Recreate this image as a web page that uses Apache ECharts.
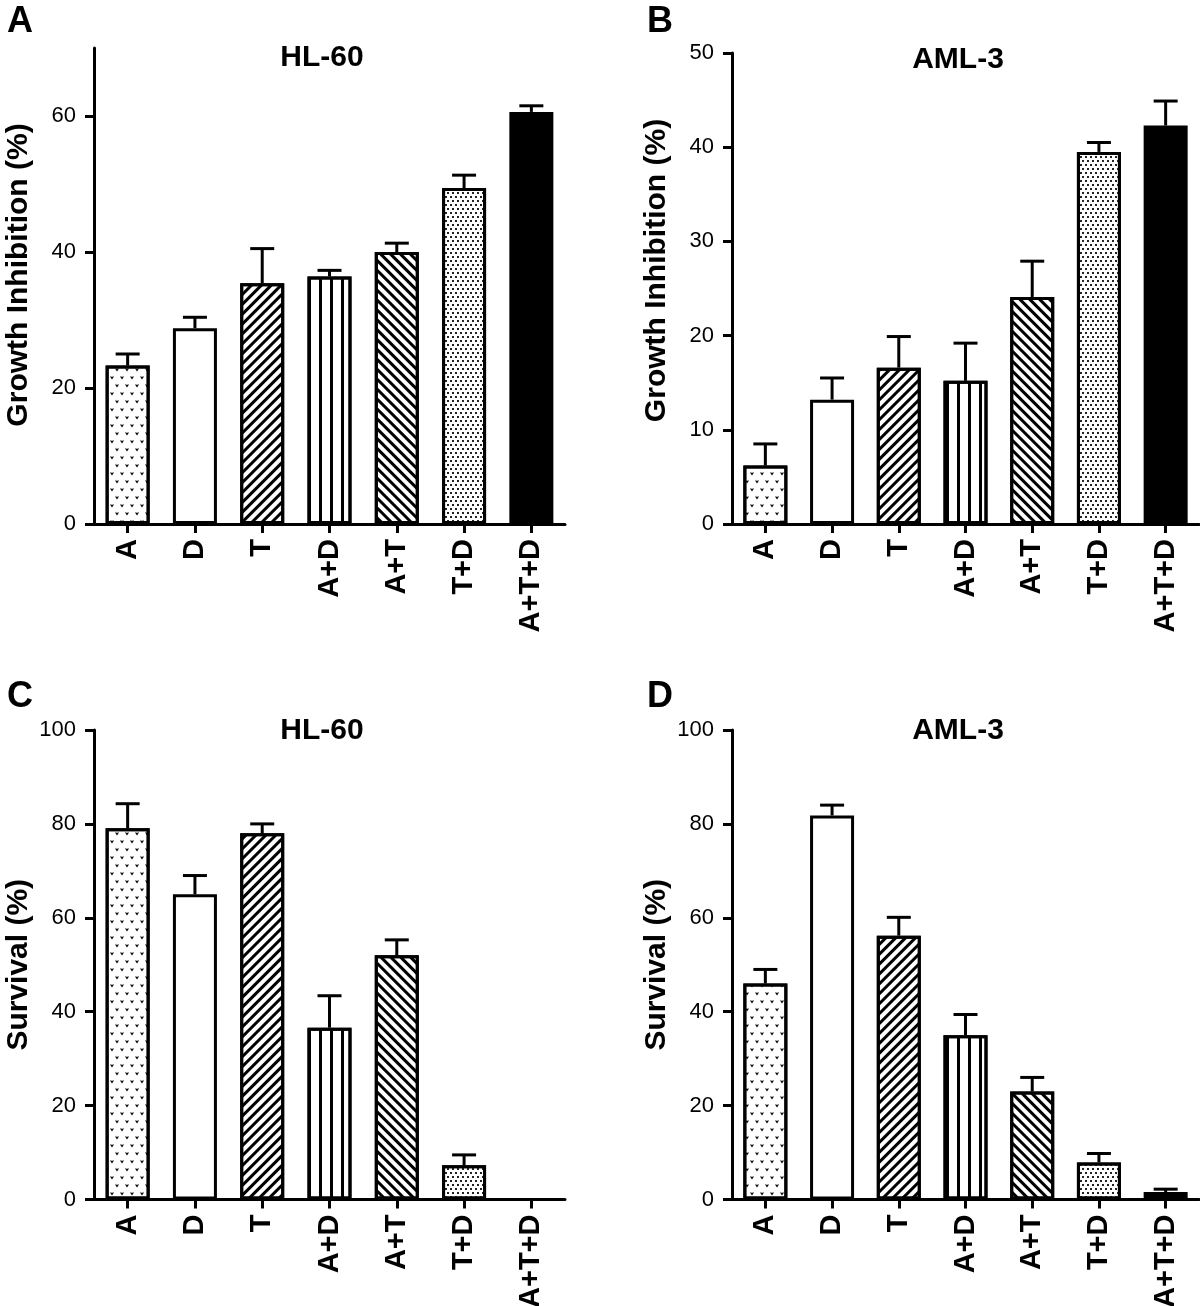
<!DOCTYPE html>
<html>
<head>
<meta charset="utf-8">
<script src="https://cdn.jsdelivr.net/npm/echarts@6/dist/echarts.min.js"></script>
<style>
html,body{margin:0;padding:0;background:#fff;}
#chart{width:1200px;height:1306px;}
</style>
</head>
<body>
<div id="chart"></div>
<script>
// ---------- DATA ----------
const categories = ['A', 'D', 'T', 'A+D', 'A+T', 'T+D', 'A+T+D'];

const hl60Growth    = [23.3, 28.8, 35.4, 36.4, 40.0, 49.4, 60.6];
const hl60GrowthErr = [1.7, 1.6, 5.1, 0.9, 1.3, 1.9, 0.9];

const aml3Growth    = [6.2, 13.2, 16.6, 15.2, 24.1, 39.5, 42.3];
const aml3GrowthErr = [2.3, 2.3, 3.3, 4.0, 3.8, 1.0, 2.6];

const hl60Surv      = [79.1, 65.0, 78.0, 36.6, 52.0, 7.3, 0];
const hl60SurvErr   = [5.2, 4.0, 2.0, 6.8, 3.3, 2.2, 0];

const aml3Surv      = [46.0, 81.8, 56.2, 35.0, 23.0, 7.9, 1.6];
const aml3SurvErr   = [3.0, 2.2, 3.9, 4.4, 3.0, 1.9, 0.6];

const ticksA = [0, 20, 40, 60];
const ticksB = [0, 10, 20, 30, 40, 50];
const ticksC = [0, 20, 40, 60, 80, 100];
const ticksD = [0, 20, 40, 60, 80, 100];

const panelTitles = ['HL-60', 'AML-3', 'HL-60', 'AML-3'];
const panelLetters = ['A', 'B', 'C', 'D'];
const yNames = ['Growth Inhibition (%)', 'Growth Inhibition (%)', 'Survival (%)', 'Survival (%)'];

// ---------- STYLE ----------
const FONT = '"Liberation Sans", Arial, Helvetica, sans-serif';
const BLACK = '#000';

const vPath = 'path://M0,0 L1.5,0 L2,1.1 L2.5,0 L4,0 L2,3.2 Z';
const decals = [
  { symbol: vPath, symbolSize: 1, color: BLACK, backgroundColor: null,
    dashArrayX: [[4, 6], [0, 5, 4, 1]], dashArrayY: [3.2, 3.4], rotation: 0 },
  null,
  { symbol: 'rect', symbolSize: 1, color: BLACK, backgroundColor: null,
    dashArrayX: [1, 0], dashArrayY: [3, 4], rotation: -Math.PI / 4 },
  { symbol: 'rect', symbolSize: 1, color: BLACK, backgroundColor: null,
    dashArrayX: [3, 8], dashArrayY: [1, 0], rotation: 0 },
  { symbol: 'rect', symbolSize: 1, color: BLACK, backgroundColor: null,
    dashArrayX: [1, 0], dashArrayY: [3, 4], rotation: Math.PI / 4 },
  { symbol: 'rect', symbolSize: 1, color: '#222', backgroundColor: null,
    dashArrayX: [[1.5, 2.5], [0, 2, 1.5, 0.5]], dashArrayY: [1.5, 1.5], rotation: 0 },
  null
];
const fills = ['#fff', '#fff', '#fff', '#fff', '#fff', '#fff', BLACK];

const grids = [
  { left: 94, top: 48, width: 471, height: 476 },
  { left: 732, top: 53, width: 467, height: 471 },
  { left: 94, top: 730, width: 471, height: 469.5 },
  { left: 732, top: 730, width: 467, height: 469.5 }
];
const yRanges = [
  { min: 0, max: 70, ticks: ticksA },
  { min: 0, max: 50, ticks: ticksB },
  { min: 0, max: 100, ticks: ticksC },
  { min: 0, max: 100, ticks: ticksD }
];
const nameShift = [22, 36, 0, 0];
const panelData = [
  [hl60Growth, hl60GrowthErr],
  [aml3Growth, aml3GrowthErr],
  [hl60Surv, hl60SurvErr],
  [aml3Surv, aml3SurvErr]
];

const chart = echarts.init(document.getElementById('chart'), null, { renderer: 'canvas' });

const option = {
  animation: false,
  backgroundColor: '#fff',
  grid: grids.map(g => Object.assign({ containLabel: false, outerBoundsMode: 'none' }, g)),
  xAxis: grids.map((g, i) => ({
    type: 'category',
    gridIndex: i,
    data: categories,
    boundaryGap: true,
    axisLine: { show: true, lineStyle: { color: BLACK, width: 3 } },
    axisTick: { show: true, alignWithLabel: true, length: 9, lineStyle: { color: BLACK, width: 3 } },
    axisLabel: { rotate: 90, margin: 15, color: BLACK, fontFamily: FONT, fontWeight: 'bold', fontSize: 29 },
    splitLine: { show: false }
  })),
  yAxis: grids.map((g, i) => ({
    type: 'value',
    gridIndex: i,
    min: yRanges[i].min,
    max: yRanges[i].max,
    name: yNames[i],
    nameLocation: 'middle',
    nameGap: 60,
    nameTextStyle: { color: BLACK, fontFamily: FONT, fontWeight: 'bold', fontSize: 30,
      padding: [0, 0, 0, nameShift[i]] },
    axisLine: { show: true, lineStyle: { color: BLACK, width: 3 } },
    axisTick: { show: true, length: 9, lineStyle: { color: BLACK, width: 3 }, customValues: yRanges[i].ticks },
    axisLabel: { margin: 18, color: BLACK, fontFamily: FONT, fontSize: 22, customValues: yRanges[i].ticks },
    splitLine: { show: false }
  })),
  series: []
};

panelData.forEach((pd, i) => {
  const vals = pd[0], errs = pd[1];
  option.series.push({
    type: 'bar',
    xAxisIndex: i, yAxisIndex: i,
    barWidth: 44,
    data: vals.map((v, k) => ({
      value: v,
      itemStyle: { color: fills[k], borderColor: BLACK, borderWidth: 3, decal: decals[k] || undefined }
    })),
    z: 2
  });
  option.series.push({
    type: 'custom',
    xAxisIndex: i, yAxisIndex: i,
    z: 3,
    data: vals.map((v, k) => [k, v, errs[k]]),
    renderItem: function (params, api) {
      const x = api.value(0), v = api.value(1), e = api.value(2);
      if (!e) return null;
      const p0 = api.coord([x, v]);
      const p1 = api.coord([x, v + e]);
      return {
        type: 'group',
        children: [
          { type: 'line', shape: { x1: p0[0], y1: p0[1], x2: p1[0], y2: p1[1] }, style: { stroke: BLACK, lineWidth: 3 } },
          { type: 'line', shape: { x1: p1[0] - 12, y1: p1[1], x2: p1[0] + 12, y2: p1[1] }, style: { stroke: BLACK, lineWidth: 3 } }
        ]
      };
    }
  });
});

const titlePos = [[322, 58], [958, 60], [322, 731], [958, 731]];
const letterPos = [[20, 22], [660, 22], [20, 697], [660, 697]];
option.graphic = [];
titlePos.forEach((p, i) => {
  option.graphic.push({
    type: 'text', x: p[0], y: p[1],
    style: { text: panelTitles[i], fill: BLACK, font: 'bold 30px ' + FONT, textAlign: 'center', textVerticalAlign: 'middle' }
  });
});
letterPos.forEach((p, i) => {
  option.graphic.push({
    type: 'text', x: p[0], y: p[1],
    style: { text: panelLetters[i], fill: BLACK, font: 'bold 36px ' + FONT, textAlign: 'center', textVerticalAlign: 'middle' }
  });
});

chart.setOption(option);
</script>
</body>
</html>
